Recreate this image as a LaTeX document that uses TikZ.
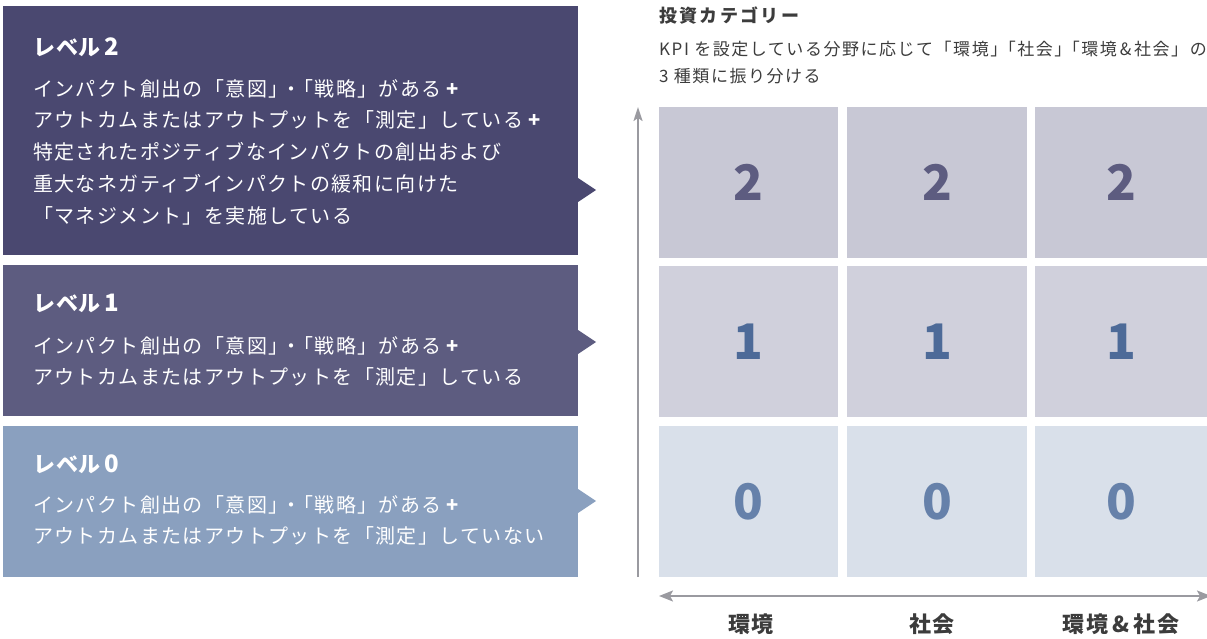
\documentclass[tikz,border=0pt]{standalone}
\usepackage{fontspec}
\setmainfont{Noto Sans CJK JP}
\newfontfamily\bodyfont[LetterSpace=7]{Noto Sans CJK JP}
\newfontfamily\headfont[LetterSpace=4]{Noto Sans CJK JP}
\newfontfamily\subfont[LetterSpace=9]{Noto Sans CJK JP}
\newfontfamily\ttlfont[LetterSpace=13]{Noto Sans CJK JP}
\usetikzlibrary{arrows.meta}
\definecolor{lvtwo}{HTML}{4A4870}
\definecolor{lvone}{HTML}{5D5C80}
\definecolor{lvzero}{HTML}{8AA0BF}
\definecolor{celltwo}{HTML}{C8C8D5}
\definecolor{cellone}{HTML}{D0D0DC}
\definecolor{cellzero}{HTML}{D9E0EA}
\definecolor{numtwo}{HTML}{5D5C80}
\definecolor{numone}{HTML}{4D6A98}
\definecolor{numzero}{HTML}{6681AA}
\definecolor{axisgray}{HTML}{9A9AA0}
\definecolor{txtgray}{HTML}{3C3C3C}
\newcommand{\mdot}{」\kern-.38em・\kern-.38em「}
\newcommand{\bplus}{\hspace{5pt}{\bfseries +}}
\newcommand{\lvl}[1]{レベル\hspace{4pt}{\fontsize{24}{24}\selectfont #1}}
\tikzset{
  lvbox/.style={rectangle, inner sep=0, outer sep=0, minimum width=575, anchor=north west},
  head/.style={anchor=base west, inner sep=0, text=white, font=\bfseries\headfont\fontsize{22}{22}\selectfont},
  body/.style={anchor=base west, inner sep=0, text=white, font=\bodyfont\fontsize{20}{20}\selectfont},
  cell/.style={rectangle, inner sep=0, outer sep=0, anchor=north west, minimum height=151},
  num/.style={font=\bfseries\fontsize{49}{49}\selectfont, inner sep=0},
  title/.style={anchor=base west, inner sep=0, text=txtgray, font=\bfseries\ttlfont\fontsize{18}{18}\selectfont},
  sub/.style={anchor=base west, inner sep=0, text=txtgray, font=\subfont\fontsize{17}{17}\selectfont},
  cat/.style={anchor=base, inner sep=0, text=txtgray, font=\bfseries\subfont\fontsize{22}{22}\selectfont},
  axis/.style={draw=axisgray, line width=2pt},
}
\begin{document}
\begin{tikzpicture}[x=1pt,y=-1pt]
\useasboundingbox (0,0) rectangle (1207,639);
% level boxes
\node[lvbox, fill=lvtwo, minimum height=249] (box2) at (3,6) {};
\fill[lvtwo] (578,178) -- (596,190) -- (578,202) -- cycle;
\node[lvbox, fill=lvone, minimum height=151] (box1) at (3,265) {};
\fill[lvone] (578,330) -- (596,342) -- (578,354) -- cycle;
\node[lvbox, fill=lvzero, minimum height=151] (box0) at (3,426) {};
\fill[lvzero] (578,489) -- (596,501) -- (578,513) -- cycle;
% level 2 text
\node[head] (h2) at (33,56) {\lvl{2}};
\node[body] (t21) at (33,97) {インパクト創出の「意図\mdot 戦略」がある\bplus};
\node[body] (t22) at (33,128) {アウトカムまたはアウトプットを「測定」している\bplus};
\node[body] (t23) at (33,160) {特定されたポジティブなインパクトの創出および};
\node[body] (t24) at (33,192) {重大なネガティブインパクトの緩和に向けた};
\node[body] (t25) at (33,223) {「マネジメント」を実施している};
% level 1 text
\node[head] (h1) at (33,311) {\lvl{1}};
\node[body] (t11) at (33,353) {インパクト創出の「意図\mdot 戦略」がある\bplus};
\node[body] (t12) at (33,384) {アウトカムまたはアウトプットを「測定」している};
% level 0 text
\node[head] (h0) at (33,472) {\lvl{0}};
\node[body] (t01) at (33,512) {インパクト創出の「意図\mdot 戦略」がある\bplus};
\node[body] (t02) at (33,543) {アウトカムまたはアウトプットを「測定」していない};
% right title
\node[title] (ttl) at (659,23) {投資カテゴリー};
\node[sub] (st1) at (659,56) {KPI を設定している分野に応じて「環境」\kern-.5em「社会」\kern-.5em「環境\,\&\,社会」の};
\node[sub] (st2) at (659,83) {3 種類に振り分ける};
% grid
\node[cell, fill=celltwo, minimum width=179] (c2a) at (659,107) {};
\node[cell, fill=celltwo, minimum width=180] (c2b) at (847,107) {};
\node[cell, fill=celltwo, minimum width=172] (c2c) at (1035,107) {};
\node[cell, fill=cellone, minimum width=179] (c1a) at (659,266) {};
\node[cell, fill=cellone, minimum width=180] (c1b) at (847,266) {};
\node[cell, fill=cellone, minimum width=172] (c1c) at (1035,266) {};
\node[cell, fill=cellzero, minimum width=179] (c0a) at (659,426) {};
\node[cell, fill=cellzero, minimum width=180] (c0b) at (847,426) {};
\node[cell, fill=cellzero, minimum width=172] (c0c) at (1035,426) {};
\node[num, text=numtwo] (n2a) at (c2a.center) {2};
\node[num, text=numtwo] (n2b) at (c2b.center) {2};
\node[num, text=numtwo] (n2c) at (c2c.center) {2};
\node[num, text=numone] (n1a) at (c1a.center) {1};
\node[num, text=numone] (n1b) at (c1b.center) {1};
\node[num, text=numone] (n1c) at (c1c.center) {1};
\node[num, text=numzero] (n0a) at (c0a.center) {0};
\node[num, text=numzero] (n0b) at (c0b.center) {0};
\node[num, text=numzero] (n0c) at (c0c.center) {0};
% axes
\coordinate (vb) at (638,577);
\coordinate (vt) at (638,107);
\draw[axis, -{Stealth[length=14pt,width=9pt,inset=3pt]}] (vb) -- (vt);
\coordinate (hl) at (659,596);
\coordinate (hr) at (1211,596);
\draw[axis, {Stealth[length=14pt,width=11pt,inset=3pt]}-{Stealth[length=14pt,width=11pt,inset=3pt]}] (hl) -- (hr);
% categories
\node[cat] (k1) at (751,632) {環境};
\node[cat] (k2) at (932,632) {社会};
\node[cat] (k3) at (1121,632) {環境\,\&\,社会};
\end{tikzpicture}
\end{document}
